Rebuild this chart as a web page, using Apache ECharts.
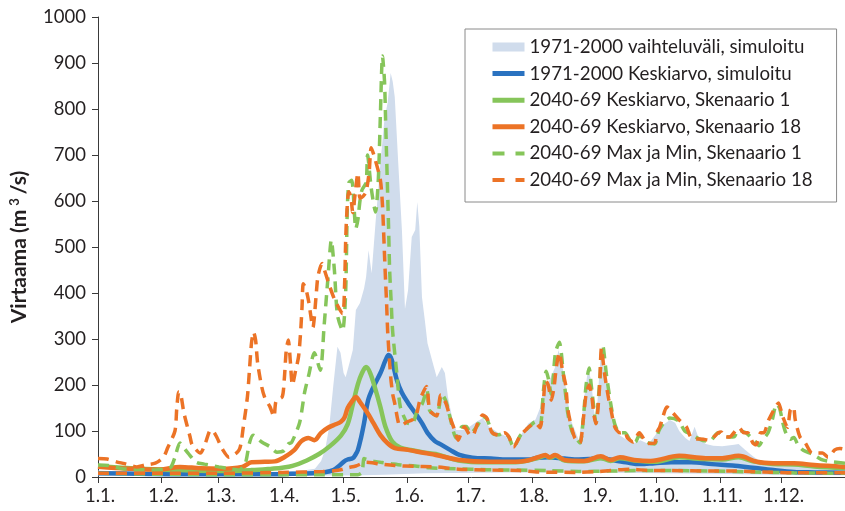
<!DOCTYPE html>
<html>
<head>
<meta charset="utf-8">
<script src="https://cdn.jsdelivr.net/npm/echarts@6/dist/echarts.min.js"></script>
<style>
html,body{margin:0;padding:0;background:#fff;}
#chart{width:845px;height:511px;}
</style>
</head>
<body>
<div id="chart"></div>
<script>
// x = day offset from 1 January (0 = 1.1.)
const monthStarts = [0, 31, 59, 90, 120, 151, 181, 212, 243, 273, 304, 334];
const monthLabels = ['1.1.', '1.2.', '1.3.', '1.4.', '1.5.', '1.6.', '1.7.', '1.8.', '1.9.', '1.10.', '1.11.', '1.12.'];
const yTicks = [0, 100, 200, 300, 400, 500, 600, 700, 800, 900, 1000];

const seriesNames = [
  '1971-2000 vaihteluväli, simuloitu',
  '1971-2000 Keskiarvo, simuloitu',
  '2040-69 Keskiarvo, Skenaario 1',
  '2040-69 Keskiarvo, Skenaario 18',
  '2040-69 Max ja Min, Skenaario 1',
  '2040-69 Max ja Min, Skenaario 18'
];

// 1971-2000 range (upper edge)
const bandDays = [0,10,20,31,45,59,75,90,100,106,109,111,113,115,117,118.5,120,121,123,124.5,126,128,130,131,132.2,133.7,135.6,138,140,141.5,143,144,145,146.7,148.5,150,151.5,153.3,155,156,157,158.3,159.7,161,163.6,165.5,168,169.5,171,173,175,178,181.5,185,188,191,195,200,203,206.5,210.4,213.8,216,217.7,220,223.4,225,227,229,231,235,237,238.5,239.4,241,242.3,243.3,245,245.7,247.5,250,252.4,255,258.7,262,265,269,273,275.6,279.5,282,284,287,289,291.5,293.5,297,300.6,305,310.8,313,316,320,323,327,334,345,355,365];
const bandMax  = [14,12,11,10,10,9,10,12,14,18,35,60,110,200,283,270,226,217,250,276,363,378,410,435,493,443,552,683,780,813,878,860,826,683,537,365,406,522,537,598,545,391,341,291,248,217,239,226,174,130,102,102,109,120,128,110,98,87,65,90,117,125,150,196,204,239,276,239,183,124,80,152,204,233,211,146,117,226,270,226,167,109,90,80,74,80,72,95,112,124,118,100,85,78,109,85,72,68,67,70,72,60,45,36,32,28,25,22,20];
// 1971-2000 range (lower edge)
const bandLowDays = [0,60,110,125,140,160,200,250,300,330,365];
const bandLow     = [3,3,3,3,5,8,10,9,7,5,4];

// 1971-2000 mean
const blueDays = [0,20,40,60,80,95,105,110,115,118,120,122,124.5,126,127,128.5,130,132,134.6,138,140.5,142,143.5,146,148.5,151.5,155,158.3,161,164.6,167,172,176.6,183,192,200,210,215,220,228,235,240,245,250,258,265,272,280,290,300,310,320,330,340,350,365];
const blueMean = [8,7,6,6,6,7,8,10,15,25,33,38,41,50,59,85,117,167,196,226,254,265,255,211,183,161,139,117,96,78,72,59,48,42,40,38,38,42,43,40,38,39,42,38,32,28,30,32,32,28,25,20,15,11,10,9];

// 2040-69 mean, scenario 1
const greenDays = [0,20,40,60,75,85,90,95,102,108,113,118.7,122,124.5,127,129,131,133,135.6,138,140.4,143.8,147.7,153.5,159.7,165,176,190,204,215,218.6,221,223.4,228,237,245.7,250.5,255,262,272,284,295,305,313,320,330,340,350,365];
const greenMean = [24,18,15,13,15,18,20,24,36,50,66,90,115,158,202,226,239,226,190,152,110,77,64,58,53,50,36,32,32,41,46,42,46,36,34,41,35,41,36,33,43,39,38,43,34,28,27,23,19];

// 2040-69 mean, scenario 18
const orangeDays = [0,15,30,40,50,60,70.5,75,81.5,86.4,91,96,99.4,102.8,105.7,109,112.4,115.3,118.7,120.5,122,124.5,126,128,131.7,134.6,138,141.4,145,151.5,159.7,165,176.6,191,204,210,215,218.6,220.5,223.4,228,237.7,245.7,250.5,255,262,270,284,297,305,313,322,330,340,350,365];
const orangeMean = [22,18,16,22,19,18,22,32,33,34,43,59,78,85,80,96,107,113,120,130,150,167,174,163,139,117,91,74,63,59,52,48,37,33,33,36,43,48,43,48,37,35,45,37,43,37,35,46,41,41,46,33,30,30,26,22];

// 2040-69 max, scenario 1
const greenMaxDays = [0,5,12,20,28,33,35.7,37.6,40,41.5,44,48,52,59,64,69,72,74,75.8,80,84,87.4,90.8,93,94.6,98.5,101,103,105.7,108.6,110.5,112.4,114,115.5,117,119.5,121,121.8,122.6,124,126,127,128,129,131,131.7,133.5,135.6,137,138,139,140,140.5,141,141.5,142,142.5,143.2,144,146,147.7,151,153.5,156,158.5,160.7,162,165.5,168,170,172,175,178,180,182,185.5,188,190,193,196,198.5,200.8,203,206.5,210,213.8,216,217.7,219,220,221.5,223.5,225.4,227.5,229.5,231.5,233,235.5,237,238.5,240,241,242.3,243.3,245,246.6,248.5,250.5,252.5,255,257.5,260,262.5,264.5,268.5,272,274,276.5,279.4,283.7,286.7,290,293.6,297.3,299.6,303,308,311,312.7,316.6,320,321.6,323,324.7,327.4,329.5,331.5,333,334.5,336,338.3,340,342,344.6,349,354,359,365];
const greenMax = [26,25,18,16,15,17,22,43,74,66,52,32,28,22,18,15,30,74,91,76,66,54,57,72,75,118,185,222,270,232,330,435,515,450,352,318,400,580,640,645,540,560,600,624,640,700,628,576,650,790,915,860,780,700,620,540,450,385,315,226,153,118,115,145,160,190,145,133,180,165,130,85,110,110,95,112,132,126,95,92,96,87,65,91,106,120,110,190,230,215,180,270,293,220,140,100,88,74,120,200,237,200,150,117,200,287,220,160,115,96,96,80,76,90,75,72,100,118,128,122,100,93,83,78,80,96,87,88,102,96,82,75,68,80,96,125,158,150,120,97,82,86,70,58,50,37,33,30];

// 2040-69 min, scenario 1
const greenMinDays = [0,30,60,90,110,120,127,129,130,131.5,135,138,143,148,155,162,175,190,205,220,235,250,265,280,300,320,340,365];
const greenMin = [8,6,5,5,5,5,5,10,40,38,34,32,29,26,24,20,18,16,15,14,12,13,14,14,13,11,9,8];

// 2040-69 max, scenario 18
const orangeMaxDays = [0,4.5,9,13,19,23,28,32,34,37.6,38.5,39.5,40.5,42,45,46,50,52.5,55,56.5,58,61,64,69,71,73,74,75,76,77,78,80,81.6,84,86,87,90,91,92,93,94,95,96.5,98,99,99.7,100.3,101.5,103,105,106.5,107.5,109.5,111,112.5,115.5,119.5,120.5,121,121.5,122.5,123.5,124.5,125.5,127,128,129.5,131,132.5,133.5,135.5,138,139,139.5,140,140.5,141,141.5,142.2,143,144,145,147,148.5,151,153.5,155.5,157.5,160.5,162,163.5,165.5,167.5,170,172,174,176,177.5,179,181.5,183,185.5,188,190,192.5,196,198.5,200.8,203,206.5,209,210.5,213.8,216,217.7,218.6,220,221.5,222.9,224,225.4,227,228.5,229.5,231,233,235.5,237,238.5,240,241.3,242.3,243.3,245,246,247.5,249.5,250.5,252.5,255,257.5,258.7,261.5,264.5,268.5,272,273,274.5,275.6,278,281,284,287.5,290,295.8,298.7,303,304.5,306,308.5,311.8,313.3,315.6,317.5,320,321.5,323.8,325.3,327.7,331,332.5,334.5,336.9,338.3,339.8,340.7,343,345.6,349,354,356.7,360,362.5,365];
const orangeMax = [40,39,33,29,22,26,30,43,63,100,150,185,178,139,87,70,52,74,102,98,87,59,43,59,109,174,232,291,315,298,248,196,171,153,131,165,174,211,276,298,250,200,230,262,315,370,420,410,380,325,390,437,464,445,424,387,355,420,511,567,620,610,575,610,661,606,610,620,663,716,689,645,591,540,482,428,380,320,268,218,180,160,115,113,120,124,135,170,197,145,138,133,178,160,130,105,80,96,109,92,90,117,135,128,97,91,96,87,65,91,102,109,117,107,168,211,200,167,198,240,270,230,200,150,115,85,74,120,180,200,175,135,116,190,280,225,170,150,109,96,98,85,76,96,73,74,96,109,124,152,139,124,109,85,82,80,96,98,87,87,102,107,96,96,74,70,96,96,124,152,161,132,108,146,152,124,87,74,52,52,43,59,62,60];

// 2040-69 min, scenario 18
const orangeMinDays = [0,30,60,90,110,118,122,126,131,134,138,145,155,165,176,193,206,215,235,245,250,260,270,280,300,310,325,340,365];
const orangeMin = [8,8,8,10,12,15,20,24,32,31,28,25,23,22,17,15,14,11,10,12,14,17,14,14,13,13,11,9,9];

const C_BAND = '#d0dcec', C_BLUE = '#2a72c0', C_GREEN = '#86c55a', C_ORANGE = '#ec7326';
const FONT = 'Lato';
const pairs = (xs, ys) => xs.map((x, i) => [x, ys[i]]);
const NO_SYMBOL = {color: 'rgba(0,0,0,0)', borderColor: 'rgba(0,0,0,0)', borderWidth: 0, opacity: 0};

const chart = echarts.init(document.getElementById('chart'), null, {renderer: 'canvas'});

function lineSeries(name, days, vals, color, width, dashed) {
  return {
    type: 'line', name: name, data: pairs(days, vals),
    symbol: 'none', showSymbol: false, smooth: dashed ? 0.25 : 0.35,
    lineStyle: {color: color, width: width, type: dashed ? [11, 7] : 'solid', cap: 'butt'},
    itemStyle: {color: color},
    silent: true, animation: false, clip: true
  };
}

const option = {
  backgroundColor: '#fff',
  animation: false,
  grid: {left: 94, right: -5, top: 17, bottom: 34, containLabel: false},
  xAxis: {
    type: 'value', min: 0, max: 365,
    axisLine: {show: true, onZero: false, lineStyle: {color: '#3a3a3a', width: 1}},
    axisTick: {show: true, length: 6, lineStyle: {color: '#3a3a3a'}, customValues: monthStarts},
    axisLabel: {
      customValues: monthStarts, margin: 10, padding: [0, 0, 0, 4],
      fontFamily: FONT, fontSize: 18.5, color: '#231f20',
      formatter: function (v) { const i = monthStarts.indexOf(Math.round(v)); return i >= 0 ? monthLabels[i] : ''; }
    },
    splitLine: {show: false}
  },
  yAxis: {
    type: 'value', min: yTicks[0], max: yTicks[yTicks.length - 1], interval: 100,
    name: 'Virtaama (m{sup|3}/s)', nameLocation: 'middle', nameGap: 67, nameRotate: 90,
    nameTextStyle: {
      fontFamily: FONT, fontSize: 21, fontWeight: 'bold', color: '#231f20',
      rich: {sup: {fontFamily: FONT, fontSize: 13, fontWeight: 'bold', color: '#231f20', padding: [0, 4, 10, 4]}}
    },
    axisLine: {show: true, lineStyle: {color: '#3a3a3a', width: 1}},
    axisTick: {show: true, length: 6, lineStyle: {color: '#3a3a3a'}},
    axisLabel: {margin: 12, fontFamily: FONT, fontSize: 18.5, color: '#231f20', formatter: function (v) { return String(v); }},
    splitLine: {show: false}
  },
  legend: {
    orient: 'vertical', left: 465, top: 29,
    padding: [8, 24, 12, 25],
    itemWidth: 32, itemHeight: 14, itemGap: 6.6,
    backgroundColor: '#fff', borderColor: '#8a8a8a', borderWidth: 1,
    textStyle: {fontFamily: FONT, fontSize: 18.7, color: '#231f20', lineHeight: 20},
    selectedMode: false,
    data: [
      {name: seriesNames[0], icon: 'path://M0,0H32V9H0Z', itemStyle: {color: C_BAND}},
      {name: seriesNames[1], itemStyle: NO_SYMBOL, lineStyle: {width: 5, color: C_BLUE}},
      {name: seriesNames[2], itemStyle: NO_SYMBOL, lineStyle: {width: 5, color: C_GREEN}},
      {name: seriesNames[3], itemStyle: NO_SYMBOL, lineStyle: {width: 5, color: C_ORANGE}},
      {name: seriesNames[4], itemStyle: NO_SYMBOL, lineStyle: {width: 4, color: C_GREEN, type: [12, 11]}},
      {name: seriesNames[5], itemStyle: NO_SYMBOL, lineStyle: {width: 4, color: C_ORANGE, type: [12, 11]}}
    ]
  },
  series: [
    {
      type: 'custom', name: seriesNames[0], coordinateSystem: 'cartesian2d',
      data: pairs(bandDays, bandMax), encode: {x: 0, y: 1},
      itemStyle: {color: C_BAND}, silent: true, clip: true, z: 1,
      renderItem: function (params, api) {
        if (params.dataIndex !== 0) return null;
        const pts = [];
        for (let i = 0; i < bandDays.length; i++) pts.push(api.coord([bandDays[i], bandMax[i]]));
        for (let i = bandLowDays.length - 1; i >= 0; i--) pts.push(api.coord([bandLowDays[i], bandLow[i]]));
        return {type: 'polygon', shape: {points: pts}, style: {fill: C_BAND}};
      }
    },
    lineSeries(seriesNames[1], blueDays, blueMean, C_BLUE, 4.5, false),
    lineSeries(seriesNames[2], greenDays, greenMean, C_GREEN, 4.5, false),
    lineSeries(seriesNames[3], orangeDays, orangeMean, C_ORANGE, 4.5, false),
    lineSeries(seriesNames[4], greenMaxDays, greenMax, C_GREEN, 3.5, true),
    lineSeries(seriesNames[4], greenMinDays, greenMin, C_GREEN, 3.5, true),
    lineSeries(seriesNames[5], orangeMaxDays, orangeMax, C_ORANGE, 3.5, true),
    lineSeries(seriesNames[5], orangeMinDays, orangeMin, C_ORANGE, 3.5, true)
  ]
};
chart.setOption(option);
</script>
</body>
</html>
